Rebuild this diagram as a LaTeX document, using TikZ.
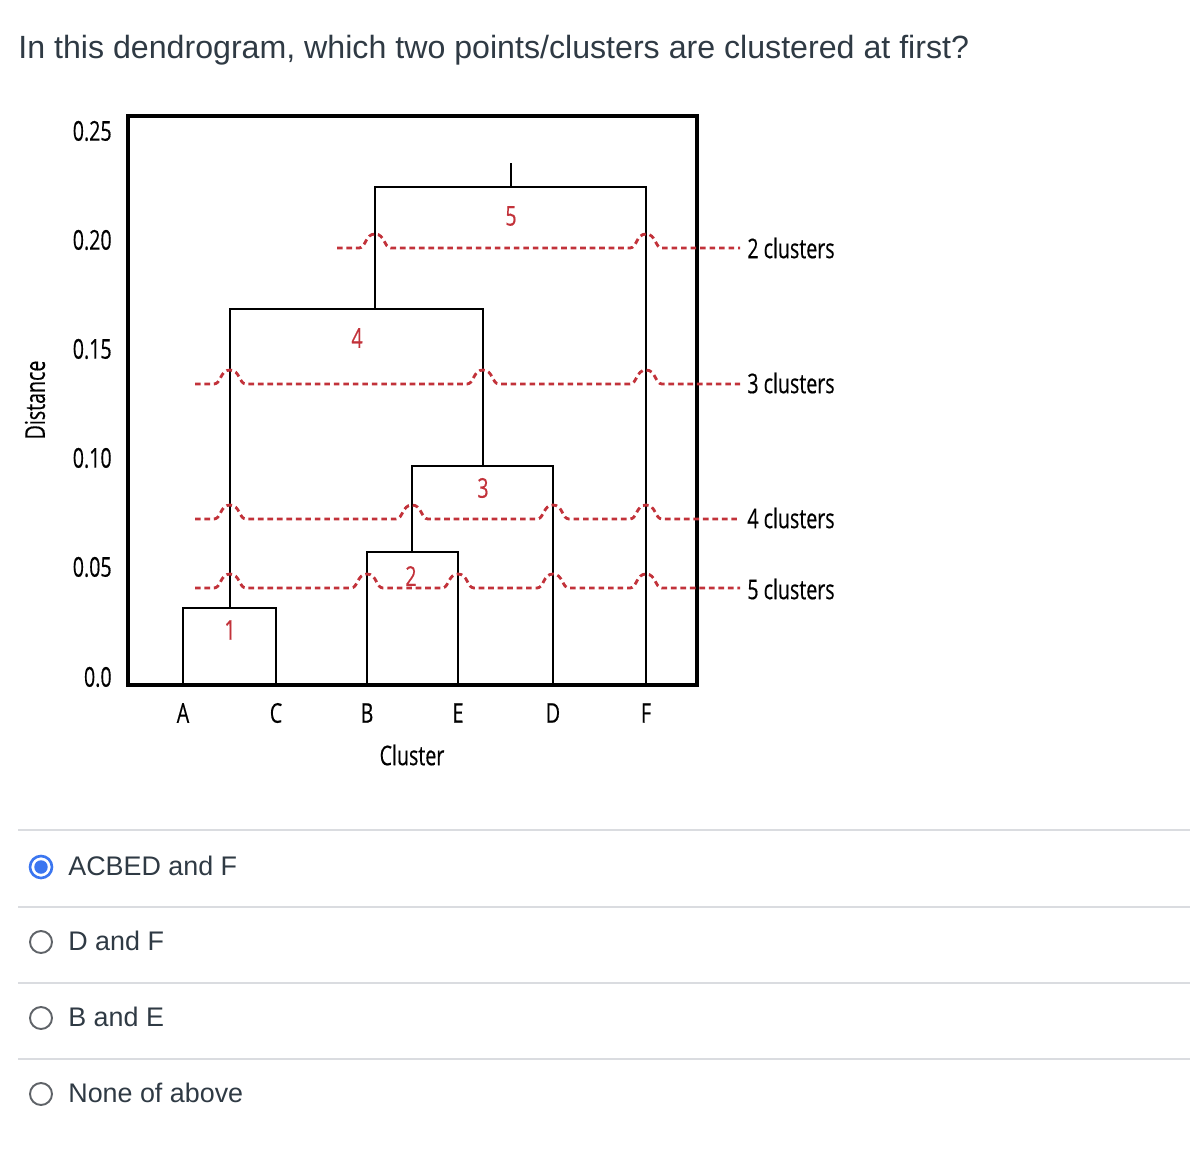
\documentclass[tikz,border=0pt]{standalone}
\usepackage{fontspec}
\setmainfont{Liberation Sans}
\newfontfamily\chartfont[FakeStretch=0.72, FakeBold=0.4]{Open Sans}
\usetikzlibrary{positioning}
\definecolor{formtext}{HTML}{2F3A44}
\definecolor{cutred}{HTML}{C2323A}
\definecolor{radioblue}{HTML}{3B76F0}
\definecolor{radiogray}{HTML}{5F6368}
\definecolor{rulegray}{HTML}{DADCE0}
\tikzset{frame/.style={line width=2.8pt},
        link/.style={line width=1.6pt},
        cutline/.style={draw=cutred, line width=1.6pt, dash pattern=on 3.2pt off 2.2pt},
        tick/.style={font=\chartfont\fontsize{15.5}{18}\selectfont, anchor=east, inner sep=0pt},
        leaf/.style={font=\chartfont\fontsize{15.5}{18}\selectfont, inner sep=0pt},
        mergeno/.style={font=\chartfont\fontsize{15.5}{18}\selectfont, text=cutred, inner sep=0pt},
        cutlabel/.style={font=\chartfont\fontsize{15.5}{18}\selectfont, anchor=west, inner sep=4pt},
        option/.style={font=\fontsize{15.3}{18}\selectfont, text=formtext, anchor=west, inner sep=0pt},
        radio/.style={circle, draw=radiogray, line width=1.1pt, minimum size=0.44cm, inner sep=0pt},
        radiosel/.style={radio, draw=radioblue, line width=1.5pt},
        radiodot/.style={circle, fill=radioblue, minimum size=0.27cm, inner sep=0pt},
        sep/.style={draw=rulegray, line width=0.8pt},
        }

\begin{document}
\begin{tikzpicture}[x=0.02cm, y=-0.02cm]
    \useasboundingbox (0,0) rectangle (1190,1156);

    \node[font=\fontsize{18.3}{21}\selectfont, text=formtext, anchor=west, inner sep=0pt] (question) at (18,50)
        {In this dendrogram, which two points/clusters are clustered at first?};

    % axes box and scale
    \draw[frame] (128,116) rectangle (697,685);
    \foreach \v/\y in {0.25/131, 0.20/240, 0.15/349, 0.10/458, 0.05/567, 0.0/677}
        \node[tick] (tick\y) at (112,\y) {\v};
    \node[leaf, rotate=90] (ylabel) at (35,400) {Distance};

    % leaves
    \coordinate (A) at (183,685);
    \coordinate (C) at (276,685);
    \coordinate (B) at (367,685);
    \coordinate (E) at (458,685);
    \coordinate (D) at (553,685);
    \coordinate (F) at (646,685);
    \node[leaf] (labA) at (183,713) {A};
    \node[leaf] (labC) at (276,713) {C};
    \node[leaf] (labB) at (367,713) {B};
    \node[leaf] (labE) at (458,713) {E};
    \node[leaf] (labD) at (553,713) {D};
    \node[leaf] (labF) at (646,713) {F};
    \node[leaf] (xlabel) at (412,755) {Cluster};

    % merges
    \coordinate (m1) at (230,608);
    \coordinate (m2) at (412,552);
    \coordinate (m3) at (483,466);
    \coordinate (m4) at (375,309);
    \coordinate (m5) at (511,187);
    \coordinate (root) at (511,163);
    \draw[link] (A) |- (m1) -| (C);
    \draw[link] (B) |- (m2) -| (E);
    \draw[link] (m2) |- (m3) -| (D);
    \draw[link] (m1) |- (m4) -| (m3);
    \draw[link] (m4) |- (m5) -| (F);
    \draw[link] (m5) -- (root);
    \node[mergeno] (n1) at (230,630) {1};
    \node[mergeno] (n2) at (411,576) {2};
    \node[mergeno] (n3) at (483,488) {3};
    \node[mergeno] (n4) at (357,338) {4};
    \node[mergeno] (n5) at (511,216) {5};

    % cut levels
    \node[cutlabel] (cut2) at (740,248) {2 clusters};
    \node[cutlabel] (cut3) at (740,383) {3 clusters};
    \node[cutlabel] (cut4) at (740,518) {4 clusters};
    \node[cutlabel] (cut5) at (740,589) {5 clusters};
    \coordinate (s2) at (337,248);
    \coordinate (s3) at (195,384);
    \coordinate (s4) at (195,519);
    \coordinate (s5) at (195,588);
    \draw[cutline] (s2) foreach \h in {375,646}
        { -- (\h-16,248) .. controls (\h-9,248) and (\h-10,234) .. (\h,234) .. controls (\h+10,234) and (\h+9,248) .. (\h+16,248) } -- (cut2.west);
    \draw[cutline] (s3) foreach \h in {230,483,646}
        { -- (\h-16,384) .. controls (\h-9,384) and (\h-10,370) .. (\h,370) .. controls (\h+10,370) and (\h+9,384) .. (\h+16,384) } -- (cut3.west |- s3);
    \draw[cutline] (s4) foreach \h in {230,412,553,646}
        { -- (\h-16,519) .. controls (\h-9,519) and (\h-10,505) .. (\h,505) .. controls (\h+10,505) and (\h+9,519) .. (\h+16,519) } -- (cut4.west |- s4);
    \draw[cutline] (s5) foreach \h in {230,367,458,553,646}
        { -- (\h-16,588) .. controls (\h-9,588) and (\h-10,574) .. (\h,574) .. controls (\h+10,574) and (\h+9,588) .. (\h+16,588) } -- (cut5.west |- s5);

    % answer options
    \draw[sep] (18,830) -- (1190,830);
    \draw[sep] (18,907) -- (1190,907);
    \draw[sep] (18,983) -- (1190,983);
    \draw[sep] (18,1059) -- (1190,1059);
    \node[radiosel] (r1) at (41,867) {};
    \node[radiodot] (r1dot) at (r1) {};
    \node[radio] (r2) at (41,942) {};
    \node[radio] (r3) at (41,1018) {};
    \node[radio] (r4) at (41,1094) {};
    \node[option] (o1) at (68,866) {ACBED and F};
    \node[option] (o2) at (68,941) {D and F};
    \node[option] (o3) at (68,1017) {B and E};
    \node[option] (o4) at (68,1093) {None of above};
\end{tikzpicture}
\end{document}
